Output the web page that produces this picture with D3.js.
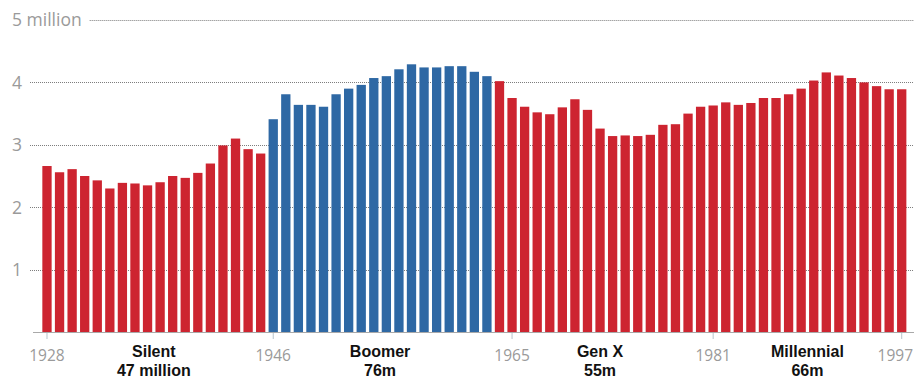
<!DOCTYPE html>
<html>
<head>
<meta charset="utf-8">
<script src="https://cdn.jsdelivr.net/npm/d3@7"></script>
<style>
  html, body { margin: 0; padding: 0; background: #fff; }
  svg { display: block; }
  .ylab, .xlab { font-family: "Open Sans", "Liberation Sans", sans-serif; fill: #9a9a9a; }
  .gen { font-family: "Liberation Sans", Arial, sans-serif; font-weight: bold; fill: #111; }
</style>
</head>
<body>
<div class="chart"><svg></svg></div>
<script>
// births per year, millions
const years = [
  1928, 1929, 1930, 1931, 1932, 1933, 1934, 1935, 1936, 1937, 1938, 1939, 1940, 1941, 1942, 1943, 1944, 1945,
  1946, 1947, 1948, 1949, 1950, 1951, 1952, 1953, 1954, 1955, 1956, 1957, 1958, 1959, 1960, 1961, 1962, 1963,
  1964, 1965, 1966, 1967, 1968, 1969, 1970, 1971, 1972, 1973, 1974, 1975, 1976, 1977, 1978, 1979, 1980,
  1981, 1982, 1983, 1984, 1985, 1986, 1987, 1988, 1989, 1990, 1991, 1992, 1993, 1994, 1995, 1996
];
const births = [
  2.66, 2.56, 2.61, 2.50, 2.43, 2.30, 2.39, 2.38, 2.35, 2.40, 2.50, 2.47, 2.55, 2.70, 2.99, 3.10, 2.93, 2.86,
  3.41, 3.81, 3.64, 3.64, 3.61, 3.81, 3.90, 3.96, 4.07, 4.10, 4.21, 4.29, 4.24, 4.24, 4.26, 4.26, 4.17, 4.10,
  4.02, 3.75, 3.61, 3.52, 3.49, 3.60, 3.73, 3.56, 3.26, 3.14, 3.15, 3.14, 3.16, 3.32, 3.33, 3.50, 3.61,
  3.63, 3.68, 3.64, 3.67, 3.75, 3.75, 3.81, 3.90, 4.03, 4.16, 4.11, 4.07, 4.00, 3.94, 3.89, 3.89
];

// generations as they are coloured in the chart
const genNames  = ["Silent", "Boomer", "Gen X", "Millennial"];
const genTotals = ["47 million", "76m", "55m", "66m"];
const genStart  = [1928, 1946, 1964, 1981];

const tickYears = [1928, 1946, 1965, 1981, 1997];
const yTicks = [1, 2, 3, 4, 5];
const yTickLabels = ["1", "2", "3", "4", "5 million"];

const W = 914, H = 379;
const red = "#cd2430", blue = "#2e68a4";
const genColor = [red, blue, red, red];

const svg = d3.select("svg").attr("width", W).attr("height", H);

const x = d3.scaleBand()
  .domain(years)
  .range([40.7, 908])
  .paddingInner(0.26)
  .paddingOuter(0.13);

const y = d3.scaleLinear()
  .domain([0, 5])
  .range([332, 20]);

const genOf = yr => d3.bisectRight(genStart, yr) - 1;

// gridlines + y labels
const grid = svg.append("g");
yTicks.forEach((t, i) => {
  const lab = grid.append("text")
    .attr("class", "ylab")
    .attr("x", 12)
    .attr("y", y(t))
    .attr("dy", "0.36em")
    .attr("font-size", 17.5)
    .text(yTickLabels[i]);
  const lw = lab.node().getComputedTextLength();
  grid.append("line")
    .attr("x1", 12 + lw + 8).attr("x2", W)
    .attr("y1", Math.round(y(t)) + 0.5).attr("y2", Math.round(y(t)) + 0.5)
    .attr("stroke", "#7c7c7c")
    .attr("stroke-width", 1)
    .attr("stroke-dasharray", "1,1");
});

// bars
svg.append("g").selectAll("rect")
  .data(years)
  .enter()
  .append("rect")
  .attr("x", d => x(d))
  .attr("width", x.bandwidth())
  .attr("y", (d, i) => y(births[i]))
  .attr("height", (d, i) => y(0) - y(births[i]))
  .attr("fill", d => genColor[genOf(d)]);

// baseline
svg.append("line")
  .attr("x1", 33).attr("x2", W)
  .attr("y1", y(0) + 0.5).attr("y2", y(0) + 0.5)
  .attr("stroke", "#a9a9a9")
  .attr("stroke-width", 1.2);

// year ticks
const lastYear = years[years.length - 1];
const tx = t => x(Math.min(t, lastYear)) + x.bandwidth() / 2;
const ticks = svg.append("g");
tickYears.forEach(t => {
  ticks.append("line")
    .attr("x1", tx(t)).attr("x2", tx(t))
    .attr("y1", y(0) + 1).attr("y2", y(0) + 7)
    .attr("stroke", "#b8c4cc");
  const lab = ticks.append("text")
    .attr("class", "xlab")
    .attr("x", tx(t))
    .attr("y", 361)
    .attr("text-anchor", "middle")
    .attr("font-size", 15.5)
    .text(t);
  // keep the last label inside the frame
  const bb = lab.node().getBBox();
  if (bb.x + bb.width > W - 1) {
    lab.attr("text-anchor", "end").attr("x", W - 1);
  }
});

// generation labels, centred under their bars (two separate lines)
genNames.forEach((g, i) => {
  const a = genStart[i];
  const b = i < genStart.length - 1 ? genStart[i + 1] - 1 : lastYear;
  const cx = (x(a) + x(b) + x.bandwidth()) / 2;
  svg.append("text")
    .attr("class", "gen")
    .attr("x", cx).attr("y", 357)
    .attr("text-anchor", "middle")
    .attr("font-size", 16)
    .text(g);
  svg.append("text")
    .attr("class", "gen")
    .attr("x", cx).attr("y", 375.5)
    .attr("text-anchor", "middle")
    .attr("font-size", 16)
    .text(genTotals[i]);
});
</script>
</body>
</html>
